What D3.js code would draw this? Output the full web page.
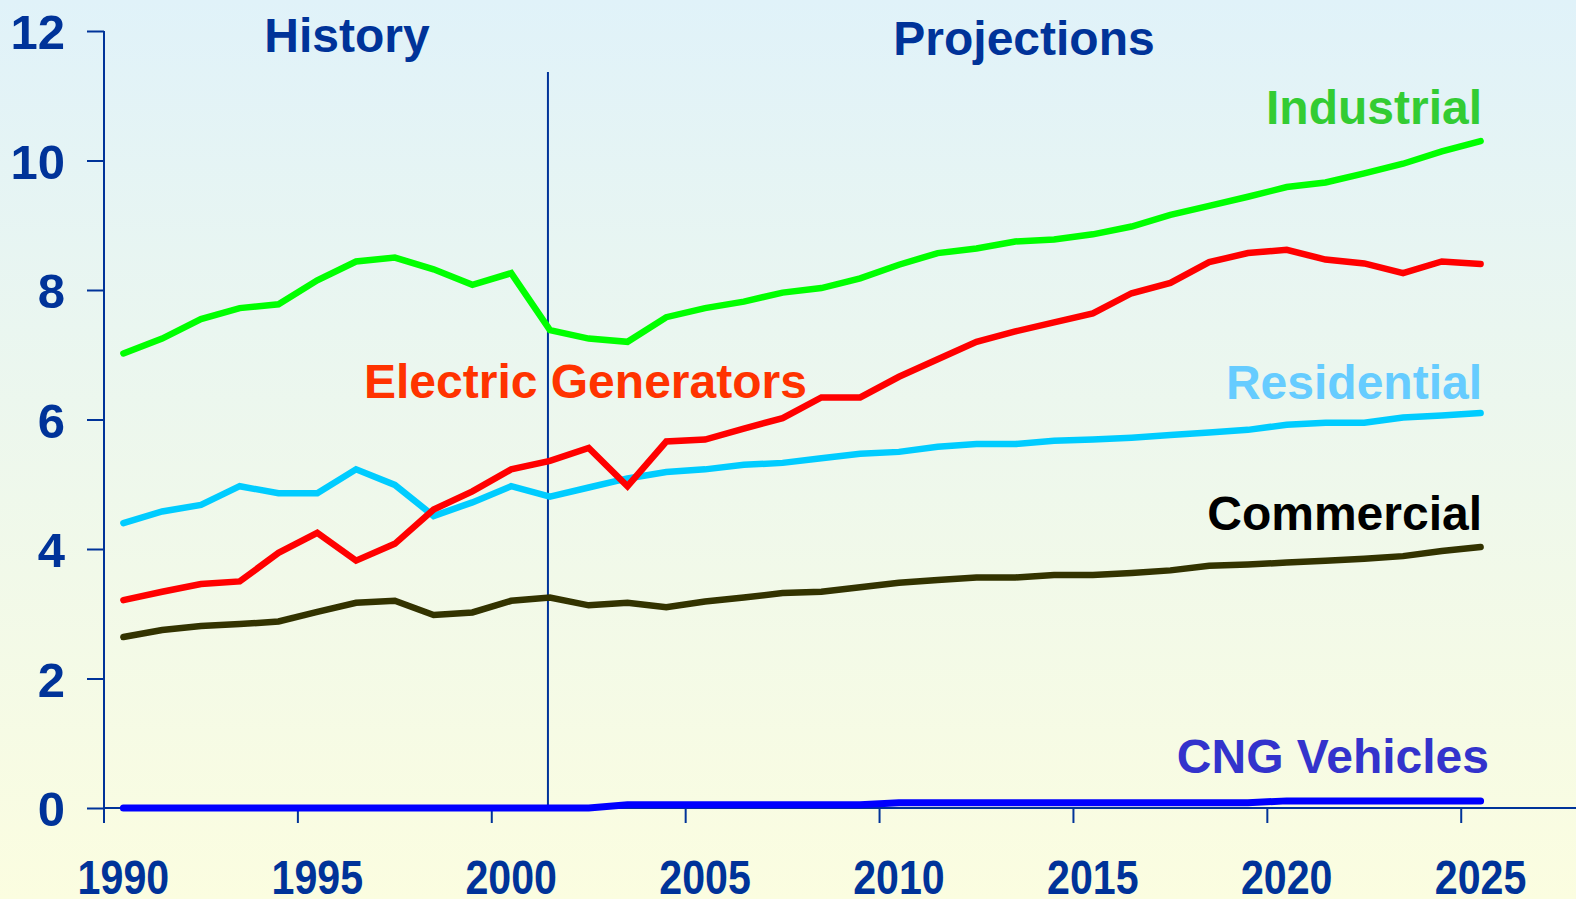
<!DOCTYPE html>
<html>
<head>
<meta charset="utf-8">
<script src="https://cdn.jsdelivr.net/npm/d3@7"></script>
<style>
  html, body { margin: 0; padding: 0; overflow: hidden; }
  svg { display: block; font-family: "Liberation Sans", Arial, sans-serif; font-weight: bold; }
</style>
</head>
<body>
<div id="chart"></div>
<script>
const years = d3.range(1990, 2026);

const industrial = [7.02, 7.25, 7.55, 7.72, 7.78, 8.15, 8.44, 8.50, 8.32, 8.08, 8.26, 7.38,
  7.25, 7.20, 7.58, 7.72, 7.82, 7.96, 8.03, 8.18, 8.39, 8.57, 8.64, 8.75,
  8.78, 8.86, 8.98, 9.16, 9.30, 9.44, 9.59, 9.66, 9.80, 9.95, 10.14, 10.30];

const electric = [3.21, 3.34, 3.46, 3.50, 3.94, 4.25, 3.82, 4.08, 4.61, 4.89, 5.23, 5.36,
  5.56, 4.97, 5.66, 5.69, 5.86, 6.02, 6.34, 6.34, 6.66, 6.93, 7.20, 7.36,
  7.50, 7.64, 7.95, 8.11, 8.43, 8.57, 8.62, 8.47, 8.41, 8.26, 8.44, 8.40];

const residential = [4.40, 4.58, 4.68, 4.97, 4.86, 4.86, 5.23, 4.99, 4.51, 4.72, 4.97, 4.81,
  4.95, 5.09, 5.19, 5.23, 5.30, 5.33, 5.40, 5.47, 5.50, 5.58, 5.62, 5.62,
  5.67, 5.69, 5.72, 5.76, 5.80, 5.84, 5.92, 5.95, 5.95, 6.03, 6.06, 6.10];

const commercial = [2.64, 2.75, 2.81, 2.84, 2.88, 3.03, 3.17, 3.20, 2.98, 3.02, 3.20, 3.25,
  3.13, 3.17, 3.10, 3.19, 3.25, 3.32, 3.34, 3.41, 3.48, 3.52, 3.56, 3.56,
  3.60, 3.60, 3.63, 3.67, 3.74, 3.76, 3.79, 3.82, 3.85, 3.89, 3.97, 4.03];

const cng = [0, 0, 0, 0, 0, 0, 0, 0, 0, 0, 0, 0,
  0, 0.05, 0.05, 0.05, 0.05, 0.05, 0.05, 0.05, 0.08, 0.08, 0.08, 0.08,
  0.08, 0.08, 0.08, 0.08, 0.08, 0.08, 0.11, 0.11, 0.11, 0.11, 0.11, 0.11];

const yTicks = [0, 2, 4, 6, 8, 10, 12];
const xLabelYears = [1990, 1995, 2000, 2005, 2010, 2015, 2020, 2025];
const historyEnd = 2001;

const series = [
  { name: "Industrial", values: industrial, color: "#00ff00", label: "#33cc33", width: 6.5 },
  { name: "Electric Generators", values: electric, color: "#ff0000", label: "#ff3300", width: 6.5 },
  { name: "Residential", values: residential, color: "#00ccff", label: "#66ccff", width: 6.5 },
  { name: "Commercial", values: commercial, color: "#333300", label: "#000000", width: 6.5 },
  { name: "CNG Vehicles", values: cng, color: "#0000ff", label: "#3333cc", width: 7 }
];

const width = 1576;
const height = 899;
const axisColor = "#003399";

const svg = d3.select("#chart").append("svg")
  .attr("width", width)
  .attr("height", height);

// background gradient
const grad = svg.append("defs").append("linearGradient")
  .attr("id", "bg")
  .attr("x1", 0).attr("y1", 0).attr("x2", 0).attr("y2", 1);
grad.append("stop").attr("offset", "0%").attr("stop-color", "#e0f2f9");
grad.append("stop").attr("offset", "100%").attr("stop-color", "#fbfde0");
svg.append("rect")
  .attr("width", width)
  .attr("height", height)
  .attr("fill", "url(#bg)");

const x = d3.scaleLinear()
  .domain([1989.5, 2025.5])
  .range([104, 1500]);

const y = d3.scaleLinear()
  .domain([0, 12])
  .range([808, 31]);

// y axis
const yAxis = svg.append("g")
  .attr("transform", `translate(${x(1989.5)},0)`)
  .call(d3.axisLeft(y).tickValues(yTicks).tickSize(17).tickFormat(d3.format("d")));
yAxis.select(".domain").remove();
yAxis.selectAll(".tick line").attr("stroke", axisColor).attr("stroke-width", 2);
yAxis.selectAll(".tick text")
  .attr("x", -39)
  .attr("dy", "0.36em")
  .attr("fill", axisColor)
  .style("font-size", "49px")
  .style("font-family", "'Liberation Sans', Arial, sans-serif")
  .style("font-weight", "bold");
yAxis.append("line")
  .attr("y1", y(12))
  .attr("y2", y(0) + 15)
  .attr("stroke", axisColor)
  .attr("stroke-width", 2);

// x axis: ticks at category boundaries, labels centred on the years
const xAxis = svg.append("g")
  .attr("transform", `translate(0,${y(0)})`);
xAxis.append("line")
  .attr("x1", x(1989.5))
  .attr("x2", width)
  .attr("stroke", axisColor)
  .attr("stroke-width", 2);
xAxis.selectAll(".xtick")
  .data(xLabelYears)
  .join("line")
  .attr("class", "xtick")
  .attr("x1", d => x(d - 0.5))
  .attr("x2", d => x(d - 0.5))
  .attr("y1", 0)
  .attr("y2", 15)
  .attr("stroke", axisColor)
  .attr("stroke-width", 2);
xAxis.selectAll(".xlabel")
  .data(xLabelYears)
  .join("text")
  .attr("class", "xlabel")
  .attr("transform", d => `translate(${x(d)},86) scale(0.84,1)`)
  .attr("text-anchor", "middle")
  .attr("fill", axisColor)
  .style("font-size", "49px")
  .text(d => d);

// history / projections divider
svg.append("line")
  .attr("x1", x(historyEnd) - 2)
  .attr("x2", x(historyEnd) - 2)
  .attr("y1", 72)
  .attr("y2", y(0))
  .attr("stroke", axisColor)
  .attr("stroke-width", 2);

const line = d3.line()
  .x((d, i) => x(years[i]))
  .y(d => y(d));

// draw back to front
[series[0], series[2], series[1], series[3], series[4]].forEach(s => {
  svg.append("path")
    .datum(s.values)
    .attr("fill", "none")
    .attr("stroke", s.color)
    .attr("stroke-width", s.width)
    .attr("stroke-linejoin", "miter")
    .attr("stroke-linecap", "round")
    .attr("d", line);
});

svg.append("text")
  .attr("x", 347).attr("y", 52)
  .attr("text-anchor", "middle")
  .attr("fill", axisColor)
  .style("font-size", "48px")
  .text("History");

svg.append("text")
  .attr("x", 1024).attr("y", 55)
  .attr("text-anchor", "middle")
  .attr("fill", axisColor)
  .style("font-size", "48px")
  .text("Projections");

const labels = [
  { s: series[0], x: 1482, y: 124, anchor: "end" },
  { s: series[1], x: 364, y: 398, anchor: "start" },
  { s: series[2], x: 1482, y: 399, anchor: "end" },
  { s: series[3], x: 1482, y: 530, anchor: "end" },
  { s: series[4], x: 1489, y: 773, anchor: "end" }
];
labels.forEach(l => {
  svg.append("text")
    .attr("x", l.x).attr("y", l.y)
    .attr("text-anchor", l.anchor)
    .attr("fill", l.s.label)
    .style("font-size", "48px")
    .text(l.s.name);
});
</script>
</body>
</html>
